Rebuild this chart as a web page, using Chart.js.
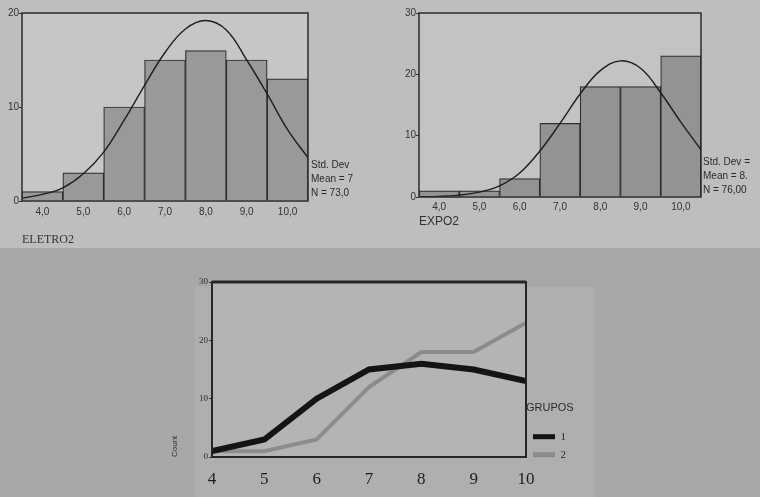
<!DOCTYPE html>
<html><head><meta charset="utf-8">
<script src="https://cdn.jsdelivr.net/npm/chart.js@4.4.1/dist/chart.umd.min.js"></script>
<style>
html,body{margin:0;padding:0;width:760px;height:497px;overflow:hidden;background:#a9a9a9;}
.band{position:absolute;}
.c{position:absolute;}
.stat{position:absolute;font:10px "Liberation Sans",Arial,sans-serif;color:#2b2b2b;line-height:14px;white-space:nowrap;}
</style></head><body>
<div class="band" style="left:0;top:0;width:760px;height:248px;background:#bebebe"></div>
<div class="band" style="left:0;top:248px;width:760px;height:249px;background:#a8a8a8"></div>
<div class="band" style="left:195px;top:287px;width:400px;height:210px;background:#afafaf"></div>
<div class="c" style="left:0;top:0;width:380px;height:250px"><canvas id="cA"></canvas></div>
<div class="c" style="left:380px;top:0;width:380px;height:250px"><canvas id="cB"></canvas></div>
<div class="c" style="left:170px;top:270px;width:430px;height:227px"><canvas id="cC"></canvas></div>
<div class="stat" style="left:311px;top:158px">Std. Dev<br>Mean = 7<br>N = 73,0</div>
<div class="stat" style="left:703px;top:155px">Std. Dev =<br>Mean = 8.<br>N = 76,00</div>
<script>
// ---- data ----
const binCenters = [4, 5, 6, 7, 8, 9, 10];
const xTickLabels = ['4,0', '5,0', '6,0', '7,0', '8,0', '9,0', '10,0'];
const eletroCounts = [1, 3, 10, 15, 16, 15, 13];
const expoCounts = [1, 1, 3, 12, 18, 18, 23];
const curveX = [3.5, 4, 4.5, 5, 5.5, 6, 6.5, 7, 7.5, 8, 8.5, 9, 9.5, 10, 10.5];
const eletroCurve = [0.3, 0.7, 1.4, 2.9, 5.2, 8.6, 12.3, 15.8, 18.3, 19.2, 18.2, 15.0, 11.4, 7.6, 4.6];
const expoCurve = [0.05, 0.1, 0.3, 0.8, 1.8, 3.9, 7.5, 12.0, 16.8, 20.6, 22.2, 21.0, 17.0, 12.2, 7.7];
const eletroYTicks = [0, 10, 20];
const expoYTicks = [0, 10, 20, 30];
const lineX = [4, 5, 6, 7, 8, 9, 10];
const lineXTickLabels = ['4', '5', '6', '7', '8', '9', '10'];
const lineYTicks = [0, 10, 20, 30];
const grupo1 = [1, 3, 10, 15, 16, 15, 13];
const grupo2 = [1, 1, 3, 12, 18, 18, 23];
const groupNames = ['1', '2'];

Chart.defaults.animation = false;
Chart.defaults.color = '#2a2a2a';

const framePlugin = {
  id: 'frame',
  beforeDatasetsDraw(chart, args, o) {
    const {ctx, chartArea: a} = chart;
    ctx.save(); ctx.fillStyle = o.bg; ctx.fillRect(a.left, a.top, a.width, a.height); ctx.restore();
  },
  afterDatasetsDraw(chart, args, o) {
    const {ctx, chartArea: a} = chart;
    ctx.save(); ctx.strokeStyle = o.color; ctx.lineWidth = o.width;
    ctx.strokeRect(a.left, a.top, a.width, a.height);
    if (o.topWidth) { ctx.lineWidth = o.topWidth; ctx.beginPath(); ctx.moveTo(a.left, a.top); ctx.lineTo(a.right, a.top); ctx.stroke(); }
    ctx.restore();
  }
};

function pts(xs, ys) { return xs.map((x, i) => ({x: x, y: ys[i]})); }

function histogram(id, counts, curve, yTicks, yMax, L) {
  return new Chart(document.getElementById(id), {
    type: 'bar',
    data: {
      datasets: [
        {type: 'line', data: pts(curveX, curve), borderColor: '#1e1e1e', borderWidth: 1.4,
         pointRadius: 0, tension: 0.4, fill: false, order: 0},
        {type: 'bar', data: pts(binCenters, counts), backgroundColor: L.bar, borderColor: '#2e2e2e',
         borderWidth: 1.2, barPercentage: 1, categoryPercentage: 1, order: 1}
      ]
    },
    options: {
      responsive: true, maintainAspectRatio: false,
      layout: {padding: {left: 0, top: 13, right: L.right, bottom: 0}},
      plugins: {legend: {display: false}, tooltip: {enabled: false},
        frame: {bg: L.bg, color: '#2b2b2b', width: 1.5}},
      scales: {
        x: {type: 'linear', min: 3.5, max: 10.5, offset: false,
          grid: {display: false, drawTicks: false}, border: {display: false},
          afterBuildTicks: s => { s.ticks = binCenters.map(v => ({value: v})); },
          afterFit: s => { s.height = L.xh; },
          ticks: {autoSkip: false, maxRotation: 0, padding: L.xpad,
            font: {family: 'Liberation Sans', size: 10}, color: '#333',
            callback: (v, i) => xTickLabels[i]},
          title: {display: true, text: L.title, align: 'start',
            font: {family: L.titleFont, size: 12}, color: '#333', padding: {top: 0, bottom: L.tpad}}
        },
        y: {min: 0, max: yMax,
          grid: {display: true, drawOnChartArea: false, drawTicks: true, tickLength: 3, color: '#333'},
          border: {display: false},
          afterBuildTicks: s => { s.ticks = yTicks.map(v => ({value: v})); },
          afterFit: s => { s.width = L.yw; },
          ticks: {padding: 0, font: {family: 'Liberation Sans', size: 10}, color: '#333'}
        }
      }
    },
    plugins: [framePlugin]
  });
}

histogram('cA', eletroCounts, eletroCurve, eletroYTicks, 20,
  {right: 72, xh: 49, yw: 22, xpad: 5, title: 'ELETRO2', titleFont: 'Liberation Serif', tpad: 3, bg: '#c6c6c6', bar: '#999999'});
histogram('cB', expoCounts, expoCurve, expoYTicks, 30,
  {right: 59, xh: 53, yw: 39, xpad: 4, title: 'EXPO2', titleFont: 'Liberation Sans', tpad: 21, bg: '#c3c3c3', bar: '#939393'});

const lineColors = ['#141414', '#8c8c8c'];
const lineChart = new Chart(document.getElementById('cC'), {
  type: 'line',
  data: {
    datasets: [
      {label: groupNames[0], data: pts(lineX, grupo1), borderColor: lineColors[0], backgroundColor: lineColors[0],
       borderWidth: 6, pointRadius: 0, tension: 0, order: 0},
      {label: groupNames[1], data: pts(lineX, grupo2), borderColor: lineColors[1], backgroundColor: lineColors[1],
       borderWidth: 4, pointRadius: 0, tension: 0, order: 1}
    ]
  },
  options: {
    responsive: true, maintainAspectRatio: false,
    layout: {padding: {left: 0, top: 12, right: 20, bottom: 0}},
    plugins: {
      tooltip: {enabled: false},
      frame: {bg: '#b4b4b4', color: '#262626', width: 2, topWidth: 3},
      legend: {display: true, position: 'right', align: 'start', maxWidth: 74,
        title: {display: true, text: 'GRUPOS', position: 'start', color: '#2a2a2a',
          font: {family: 'Liberation Sans', size: 11}, padding: {top: 120, bottom: 9}},
        labels: {boxWidth: 22, boxHeight: 5, padding: 7, color: '#222',
          font: {family: 'Liberation Serif', size: 11},
          generateLabels: ch => ch.data.datasets.map((d, i) => ({
            text: d.label, fillStyle: d.borderColor, strokeStyle: d.borderColor, lineWidth: 0,
            hidden: false, datasetIndex: i}))}
      }
    },
    scales: {
      x: {type: 'linear', min: 4, max: 10,
        grid: {display: false, drawTicks: false}, border: {display: false},
        afterBuildTicks: s => { s.ticks = lineX.map(v => ({value: v})); },
        afterFit: s => { s.height = 40; },
        ticks: {autoSkip: false, maxRotation: 0, padding: 12, color: '#1e1e1e',
          font: {family: 'Liberation Serif', size: 17}, callback: (v, i) => lineXTickLabels[i]}
      },
      y: {min: 0, max: 30,
        grid: {display: true, drawOnChartArea: false, drawTicks: true, tickLength: 3, color: '#333'},
        border: {display: false},
        afterBuildTicks: s => { s.ticks = lineYTicks.map(v => ({value: v})); },
        afterFit: s => { s.width = 42; },
        ticks: {padding: 1, color: '#2a2a2a', font: {family: 'Liberation Serif', size: 9}},
        title: {display: true, text: 'Count', align: 'start', color: '#333',
          font: {family: 'Liberation Sans', size: 8}, padding: {top: 0, bottom: 0}}
      }
    }
  },
  plugins: [framePlugin]
});
// keep the plot's right edge where the reference has it
const dr = lineChart.chartArea.right - 356;
if (Math.abs(dr) > 0.5) { lineChart.options.layout.padding.right += dr; lineChart.update('none'); }
</script>
</body></html>
